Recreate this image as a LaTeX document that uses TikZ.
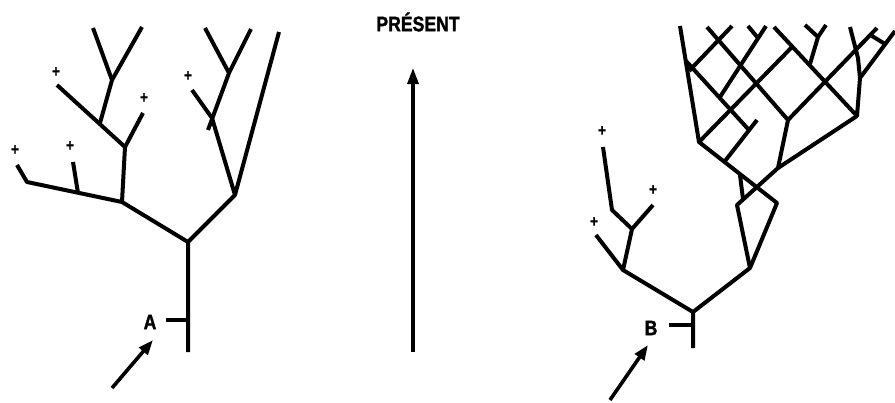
\documentclass[tikz,border=0pt]{standalone}
\usepackage{fontspec}
\usepackage{tikz}
\usetikzlibrary{arrows.meta}
\newfontfamily\etiquette[FakeStretch=0.84, BoldFeatures={FakeBold=1.6}]{Liberation Sans}

\begin{document}
\begin{tikzpicture}[
    x=1pt, y=-1pt,
    branche/.style={line width=4pt, line join=round},
    fleche/.style={-{Triangle[length=15pt, width=11pt]}, line width=3.6pt},
    temps/.style={-{Triangle[length=16pt, width=11pt]}, line width=3.2pt},
    lettre/.style={font=\etiquette\bfseries\fontsize{21}{21}\selectfont, inner sep=0pt},
    croix/.style={font=\etiquette\bfseries\fontsize{16}{16}\selectfont, inner sep=0pt}
  ]
    \useasboundingbox (0,0) rectangle (895,402);

    % Arbre A : points de branchement
    \coordinate (aRacine)  at (188,352);
    \coordinate (aTrait)   at (188,320);
    \coordinate (aBout)    at (166,320);
    \coordinate (aFourche) at (188,242);
    \coordinate (aG)       at (122,202);
    \coordinate (aGbas)    at (27,182);
    \coordinate (aGfin)    at (17,165);
    \coordinate (aGmil)    at (78,193);
    \coordinate (aGmilfin) at (73,162);
    \coordinate (aGhaut)   at (125,147);
    \coordinate (aGhd)     at (143,113);
    \coordinate (aGhg)     at (100,123);
    \coordinate (aGhgfin)  at (57,85);
    \coordinate (aGsom)    at (112,80);
    \coordinate (aGsomg)   at (93,28);
    \coordinate (aGsomd)   at (142,27);
    \coordinate (aD)       at (235,195);
    \coordinate (aDmil)    at (212,118);
    \coordinate (aDqueue)  at (208,130);
    \coordinate (aDbrin)   at (192,90);
    \coordinate (aDsom)    at (229,73);
    \coordinate (aDsomg)   at (205,28);
    \coordinate (aDsomd)   at (251,29);
    \coordinate (aDlong)   at (279,32);

    % Arbre A : branches
    \draw[branche] (aRacine) -- (aFourche) -- (aG) -- (aGbas) -- (aGfin);
    \draw[branche] (aTrait) -- (aBout);
    \draw[branche] (aGmil) -- (aGmilfin);
    \draw[branche] (aG) -- (aGhaut) -- (aGhd);
    \draw[branche] (aGhaut) -- (aGhgfin);
    \draw[branche] (aGhg) -- (aGsom) -- (aGsomg);
    \draw[branche] (aGsom) -- (aGsomd);
    \draw[branche] (aFourche) -- (aD) -- (aDmil);
    \draw[branche] (aDqueue) -- (aDsom) -- (aDsomg);
    \draw[branche] (aDsom) -- (aDsomd);
    \draw[branche] (aDbrin) -- (aDmil);
    \draw[branche] (aD) -- (aDlong);

    % Extinctions
    \node[croix] (xa1) at (15,150)  {+};
    \node[croix] (xa2) at (70,146)  {+};
    \node[croix] (xa3) at (144,98)  {+};
    \node[croix] (xa4) at (56,72)   {+};
    \node[croix] (xa5) at (188,76)  {+};

    % Repere A
    \node[lettre] (A) at (150,322) {A};
    \coordinate (aQueue)  at (112,388);
    \coordinate (aPointe) at (153,340);
    \draw[fleche] (aQueue) -- (aPointe);

    % Axe du temps
    \node[lettre] (present) at (418,22) {PRÉSENT};
    \coordinate (tBas)  at (413,352);
    \coordinate (tHaut) at (413,68);
    \draw[temps] (tBas) -- (tHaut);

    % Arbre B : points de branchement
    \coordinate (bRacine)   at (693,348);
    \coordinate (bTrait)    at (693,325);
    \coordinate (bBout)     at (669,325);
    \coordinate (bFourche)  at (693,312);
    \coordinate (bG)        at (623,270);
    \coordinate (bGfin)     at (596,235);
    \coordinate (bGhaut)    at (632,229);
    \coordinate (bGhd)      at (653,205);
    \coordinate (bGhg)      at (612,210);
    \coordinate (bGhgfin)   at (603,147);
    \coordinate (bD)        at (750,268);
    \coordinate (bLosG)     at (737,205);
    \coordinate (bLosD)     at (777,203);
    \coordinate (bBordBas)  at (699,142);
    \coordinate (bBordHaut) at (680,26);
    \coordinate (bCroix)    at (778,168);
    \coordinate (bCoin)     at (857,116);
    \coordinate (bNoeud)    at (788,120);
    \coordinate (bTige1)    at (740,175);
    \coordinate (bTige2)    at (743,199);

    % Arbre B : reseau
    \coordinate (b2haut)    at (707,27);
    \coordinate (b6haut)    at (877,28);
    \coordinate (bHhaut)    at (774,27);
    \coordinate (bBord2)    at (860,78);
    \coordinate (bBord2mil) at (858,58);
    \coordinate (bBord2som) at (850,27);
    \coordinate (bEch)      at (895,31);
    \coordinate (bBarG)     at (872,36);
    \coordinate (bBarD)     at (885,44);
    \coordinate (bY0)       at (810,64);
    \coordinate (bY)        at (818,37);
    \coordinate (bYg)       at (805,25);
    \coordinate (bYd)       at (826,25);
    \coordinate (b3bas)     at (689,71);
    \coordinate (b3haut)    at (732,26);
    \coordinate (b4bas)     at (686,61);
    \coordinate (b4fin)     at (749,130);
    \coordinate (b5bas)     at (720,97);
    \coordinate (b5haut)    at (766,26);
    \coordinate (b5brin)    at (748,26);
    \coordinate (b5j)       at (758,38);
    \coordinate (bF)        at (792,47);
    \coordinate (bSbas)     at (725,161);
    \coordinate (bShaut)    at (757,120);

    % Arbre B : branches
    \draw[branche] (bRacine) -- (bFourche) -- (bG) -- (bGfin);
    \draw[branche] (bTrait) -- (bBout);
    \draw[branche] (bG) -- (bGhaut) -- (bGhd);
    \draw[branche] (bGhaut) -- (bGhg) -- (bGhgfin);
    \draw[branche] (bFourche) -- (bD) -- (bLosG) -- (bCroix) -- (bCoin);
    \draw[branche] (bD) -- (bLosD) -- (bBordBas) -- (bBordHaut);
    \draw[branche] (bCroix) -- (bNoeud);
    \draw[branche] (bTige1) -- (bTige2);
    \draw[branche] (b2haut) -- (bNoeud) -- (b6haut);
    \draw[branche] (bHhaut) -- (bCoin) -- (bBord2) -- (bBord2mil) -- (bBord2som);
    \draw[branche] (bBord2) -- (bEch);
    \draw[branche] (bBarG) -- (bBarD);
    \draw[branche] (bY0) -- (bY) -- (bYg);
    \draw[branche] (bY) -- (bYd);
    \draw[branche] (b3bas) -- (b3haut);
    \draw[branche] (b4bas) -- (b4fin);
    \draw[branche] (b5bas) -- (b5haut);
    \draw[branche] (b5brin) -- (b5j);
    \draw[branche] (bBordBas) -- (bF);
    \draw[branche] (bSbas) -- (bShaut);

    % Extinctions
    \node[croix] (xb1) at (594,222) {+};
    \node[croix] (xb2) at (653,190) {+};
    \node[croix] (xb3) at (602,131) {+};

    % Repere B
    \node[lettre] (B) at (651,328) {B};
    \coordinate (bQueue)  at (610,400);
    \coordinate (bPointe) at (648,345);
    \draw[fleche] (bQueue) -- (bPointe);
  \end{tikzpicture}
\end{document}
